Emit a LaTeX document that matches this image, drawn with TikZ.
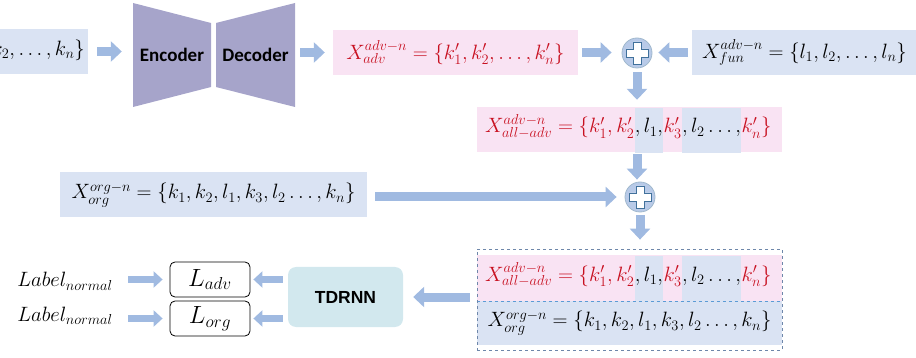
\documentclass[tikz,border=0pt]{standalone}
\usepackage{fontspec}
\setmainfont{Carlito}
\newfontfamily\tdfont{Liberation Sans}
\usetikzlibrary{arrows.meta, calc, positioning}

\definecolor{boxblue}{RGB}{218,227,243}
\definecolor{boxpink}{RGB}{249,227,243}
\definecolor{advred}{RGB}{200,16,32}
\definecolor{trapgray}{RGB}{166,164,202}
\definecolor{arrowblue}{RGB}{160,186,225}
\definecolor{plusfill}{RGB}{184,202,232}
\definecolor{plusline}{RGB}{65,113,156}
\definecolor{tdfill}{RGB}{210,232,238}
\definecolor{dashgray}{RGB}{110,135,170}
\definecolor{dashblue}{RGB}{91,155,213}

\tikzset{
  blockarrow/.style={draw=arrowblue, line width=9pt, -{Triangle[length=11pt, width=20pt]}},
  smallarrow/.style={draw=arrowblue, line width=7pt, -{Triangle[length=9pt, width=16pt]}},
  mathtext/.style={font=\fontsize{22.5}{26}\selectfont},
  codebox/.style={mathtext, minimum height=45pt, inner ysep=0pt},
  plusnode/.style={circle, minimum size=30pt, inner sep=0pt, fill=plusfill, draw=plusline!50, line width=0.8pt},
  seg/.style={mathtext, inner xsep=0pt, inner ysep=0pt, text height=25pt, text depth=20pt, anchor=base west},
  lossbox/.style={font=\fontsize{25}{28}\selectfont, draw, rounded corners=5pt, minimum width=80pt, minimum height=35pt, inner sep=0pt, fill=white, line width=0.8pt},
  labeltext/.style={font=\fontsize{22.5}{26}\selectfont, anchor=base},
}

\begin{document}
\begin{tikzpicture}[x=1pt, y=-1pt]
  \useasboundingbox (0,0) rectangle (916,358);
  \clip (0,0) rectangle (916,358);

  % top row
  \node (inbox) [codebox, fill=boxblue, anchor=east, inner xsep=3pt] at (88,51.5) {$X^{org-n}_{org}=\{k_1,k_2,\ldots,k_n\}$};
  \fill[trapgray] (133,3) -- (211,23) -- (211,87) -- (133,107) -- cycle;
  \fill[trapgray] (216,23) -- (295,3) -- (295,107) -- (216,87) -- cycle;
  \node (enc) [minimum width=78pt, minimum height=104pt, inner sep=0pt, font=\bfseries\fontsize{19}{22}\selectfont] at (172,55) {Encoder};
  \node (dec) [minimum width=79pt, minimum height=104pt, inner sep=0pt, font=\bfseries\fontsize{19}{22}\selectfont] at (255.5,55) {Decoder};
  \node (adv) [codebox, fill=boxpink, text=advred, minimum width=245pt] at (455.5,52.5) {$X^{adv-n}_{adv}=\{k'_1,k'_2,\ldots,k'_n\}$};
  \node (plus1) [plusnode] at (637,53) {};
  \node (fun) [codebox, fill=boxblue, anchor=west, inner xsep=10pt, text width=230pt, align=left] at (692,52.5) {$X^{adv-n}_{fun}=\{l_1,l_2,\ldots,l_n\}$};

  % mixed row
  \node (alladv) [fill=boxpink, minimum width=305pt, minimum height=45pt, inner sep=0pt] at (629.5,129.5) {};
  \node (org) [codebox, fill=boxblue, minimum width=307pt] at (213.5,195) {$X^{org-n}_{org}=\{k_1,k_2,l_1,k_3,l_2\ldots,k_n\}$};
  \node (plus2) [plusnode] at (640,197) {};

  % pair fed to the model
  \node (alladv2) [fill=boxpink, minimum width=305pt, minimum height=46pt, inner sep=0pt] at (629.5,278) {};
  \node (org2) [codebox, fill=boxblue, minimum width=305pt, minimum height=44pt] at (629.5,323) {$X^{org-n}_{org}=\{k_1,k_2,l_1,k_3,l_2\ldots,k_n\}$};

  \foreach \r/\yb in {a/133, b/281} {
    \node (s\r1) [seg, text=advred] at (485,\yb) {$X^{adv-n}_{all-adv}=\{k'_1,k'_2$};
    \node (s\r2) [seg, fill=boxblue] at (s\r1.base east) {$,l_1,$};
    \node (s\r3) [seg, text=advred] at (s\r2.base east) {$k'_3$};
    \node (s\r4) [seg, fill=boxblue] at (s\r3.base east) {$,l_2\ldots,$};
    \node (s\r5) [seg, text=advred] at (s\r4.base east) {$k'_n\}$};
  }
  \draw[dashblue, dashed, line width=0.8pt] (alladv2.south west) -- (alladv2.south east);
  \node (pair) [draw=dashgray, dashed, line width=0.8pt, minimum width=305pt, minimum height=101pt, inner sep=0pt] at (629.5,299.5) {};

  % model and losses
  \node (tdrnn) [fill=tdfill, rounded corners=8pt, minimum width=115pt, minimum height=60pt, font=\tdfont\bfseries\fontsize{17.5}{20}\selectfont] at (345.5,297) {TDRNN};
  \node (ladv) [lossbox] at (210,279.5) {$L_{adv}$};
  \node (lorg) [lossbox] at (210,318.5) {$L_{org}$};
  \node (lab1) [labeltext] at (65,287) {$Label_{normal}$};
  \node (lab2) [labeltext] at (65,321) {$Label_{normal}$};

  % plus signs
  \foreach \p in {plus1, plus2} {
    \draw[fill=white, draw=plusline, line width=0.9pt, shift={(\p)}]
    (-4,-11) -- (4,-11) -- (4,-4) -- (11,-4) -- (11,4) -- (4,4) -- (4,11) -- (-4,11)
    -- (-4,4) -- (-11,4) -- (-11,-4) -- (-4,-4) -- cycle;
  }

  % arrows
  \draw[blockarrow, shorten <=9pt, shorten >=11pt] (inbox.east) -- (inbox.east -| enc.west);
  \draw[blockarrow, shorten <=5pt, shorten >=8pt] (dec.east |- adv.west) -- (adv.west);
  \draw[blockarrow, shorten <=4pt, shorten >=10pt] (adv.east) -- (adv.east -| plus1.west);
  \draw[blockarrow, shorten <=4pt, shorten >=6pt] (fun.west) -- (fun.west -| plus1.east);
  \draw[blockarrow, shorten <=4pt, shorten >=7pt] (plus1.south) -- (plus1.south |- alladv.north);
  \draw[blockarrow, shorten <=2pt, shorten >=2pt] (alladv.south -| plus1) -- (plus1 |- plus2.north);
  \draw[blockarrow, shorten <=8pt, shorten >=8pt] (org.east |- plus2.west) -- (plus2.west);
  \draw[blockarrow, shorten <=3pt, shorten >=9pt] (plus2.south) -- (plus2.south |- pair.north);
  \draw[blockarrow, shorten <=7pt, shorten >=10pt] (pair.west |- tdrnn.east) -- (tdrnn.east);
  \draw[smallarrow, shorten <=5pt, shorten >=3pt] (tdrnn.west |- ladv.east) -- (ladv.east);
  \draw[smallarrow, shorten <=5pt, shorten >=3pt] (tdrnn.west |- lorg.east) -- (lorg.east);
  \draw[smallarrow, shorten <=12pt, shorten >=7pt] (lab1.east |- ladv.west) -- (ladv.west);
  \draw[smallarrow, shorten <=12pt, shorten >=7pt] (lab2.east |- lorg.west) -- (lorg.west);
\end{tikzpicture}
\end{document}
